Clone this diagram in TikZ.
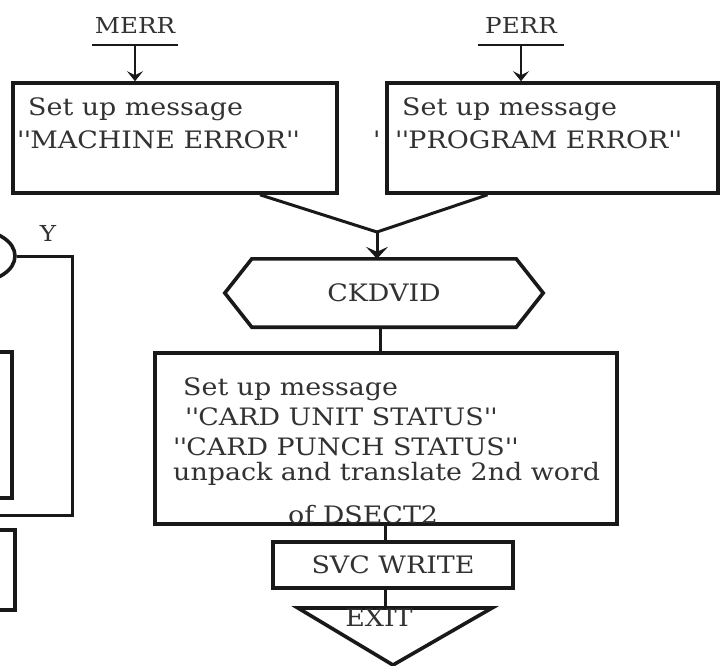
\documentclass[tikz,border=0pt]{standalone}
\usepackage{fontspec}
\setmainfont{DejaVu Serif}[FakeStretch=1.12]
\usetikzlibrary{arrows.meta,shapes.geometric}
\definecolor{ink}{RGB}{25,25,25}
\definecolor{type}{RGB}{50,50,50}
\newcommand{\flowsize}{\fontsize{24}{30}\selectfont}
\newcommand{\dtick}{\textquotesingle\textquotesingle}

\begin{document}
\begin{tikzpicture}[x=1pt, y=-1pt,
  box/.style={draw=ink, line width=3.6pt, inner sep=0pt},
  txt/.style={anchor=base west, inner sep=0pt, text=type, font=\flowsize},
  entry/.style={inner sep=0pt, minimum width=86pt, minimum height=40pt,
                text=type, font=\fontsize{22}{26}\selectfont},
  link/.style={draw=ink, line width=3pt},
  arr/.style={link, -{Stealth[length=12pt, width=22pt, inset=5pt]}}
]
\useasboundingbox (0,0) rectangle (720,665);
\clip (0,0) rectangle (720,665);

% Entry points
\node[entry] (merr) at (135,25) {MERR};
\node[entry] (perr) at (521,25) {PERR};
\draw[link, line width=2pt] (merr.south west) -- (merr.south east);
\draw[link, line width=2pt] (perr.south west) -- (perr.south east);

% Message boxes
\node[box, minimum width=324pt, minimum height=110pt] (merrbox) at (175,138) {};
\node[txt] (merrt1) at (28,115) {Set up message};
\node[txt] (merrt2) at (17,148) {\dtick MACHINE ERROR\dtick};

\node[box, minimum width=331pt, minimum height=110pt] (perrbox) at (552.5,138) {};
\node[txt] (perrt1) at (402,115) {Set up message};
\node[txt] (perrt2) at (395,148) {\dtick PROGRAM ERROR\dtick};
\node[txt] (stray) at (373,148) {\textquotesingle};

\draw[arr, line width=1.6pt, -{Stealth[length=10pt, width=16pt, inset=4pt]}]
  (merr.south) -- (merr.south |- merrbox.north);
\draw[arr, line width=2pt, -{Stealth[length=10pt, width=16pt, inset=4pt]}]
  (perr.south) -- (perr.south |- perrbox.north);

% Merge into CKDVID
\coordinate (join) at (377,232);
\node[inner sep=0pt, minimum width=318pt, minimum height=68pt,
      text=type, font=\flowsize] (ckdvid) at (384,293) {CKDVID};
\draw[box] (ckdvid.west) -- ([xshift=27pt]ckdvid.north west)
  -- ([xshift=-27pt]ckdvid.north east) -- (ckdvid.east)
  -- ([xshift=-27pt]ckdvid.south east) -- ([xshift=27pt]ckdvid.south west) -- cycle;

\draw[link] ([xshift=85pt]merrbox.south) -- (join);
\draw[link] ([xshift=-65pt]perrbox.south) -- (join);
\draw[arr] (join) -- (join |- ckdvid.north);

% Status message
\node[box, minimum width=462pt, minimum height=171pt] (bigbox) at (386,438.5) {};
\node[txt] (card1) at (183,395) {Set up message};
\node[txt] (card2) at (185,425) {\dtick CARD UNIT STATUS\dtick};
\node[txt] (card3) at (173,455) {\dtick CARD PUNCH STATUS\dtick};
\node[txt] (card4) at (173,480) {unpack and translate 2nd word};
\node[txt] (card5) at (288,523) {of DSECT2};
\draw[link] (380,0 |- ckdvid.south) -- (380,0 |- bigbox.north);

% Write and exit
\node[box, minimum width=240pt, minimum height=46pt,
      text=type, font=\flowsize] (svc) at (393,565) {SVC WRITE};
\draw[link] (385,0 |- bigbox.south) -- (385,0 |- svc.north);

\coordinate (exittop) at (385,608);
\draw[box] (298,608) -- (492,608) -- (393,665) -- cycle;
\node[inner sep=0pt, text=type, font=\flowsize] (exit) at (379,618) {EXIT};
\draw[link] (385,0 |- svc.south) -- (exittop);

% Left column (cut off)
\node[box, ellipse, minimum width=80pt, minimum height=52pt] (dec) at (-25,256) {};
\node[inner sep=0pt, text=type, font=\fontsize{22}{26}\selectfont] (ylab) at (48,233) {Y};
\coordinate (yturn) at (72,515);
\coordinate (yback) at (0,515);
\draw[link] (dec.east) -| (yturn) -- (yback);
\node[box, minimum width=124pt, minimum height=146pt] (lbox1) at (-50,425) {};
\node[box, minimum width=130pt, minimum height=80pt] (lbox2) at (-50,570) {};

\end{tikzpicture}
\end{document}
